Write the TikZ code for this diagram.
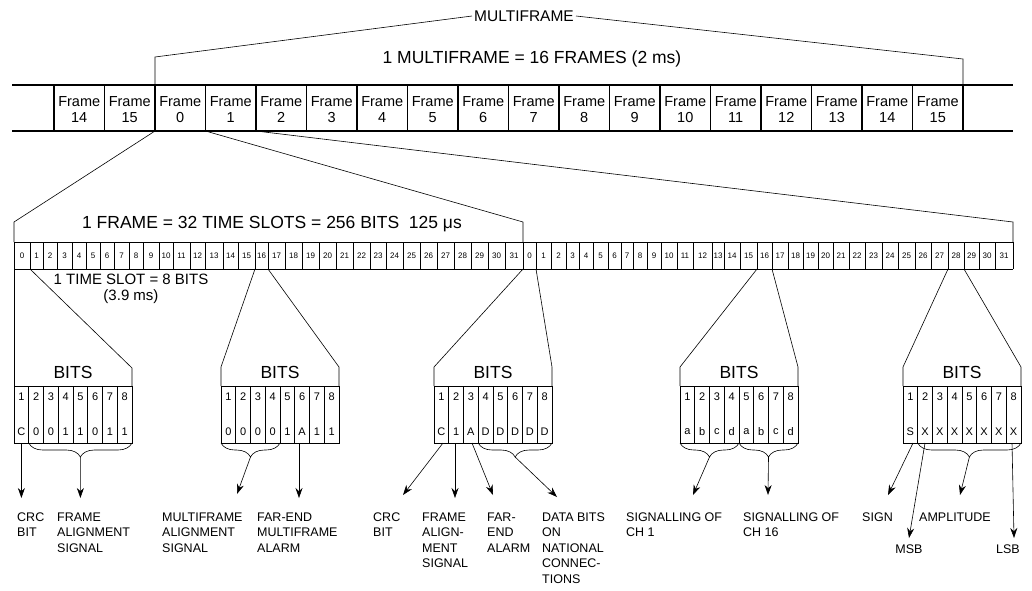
\documentclass[tikz,border=0pt]{standalone}
\usepackage{fontspec}
\setmainfont{Liberation Sans}
\usetikzlibrary{arrows.meta,calc,decorations.pathreplacing}

\begin{document}
\begin{tikzpicture}[
    x=1pt, y=1pt,
    thinline/.style={line width=0.6pt},
    heavyline/.style={line width=2pt},
    framediv/.style={line width=1.6pt},
    headline/.style={font=\fontsize{17.5}{19}\selectfont, inner sep=1pt},
    frametxt/.style={font=\fontsize{14.5}{16}\selectfont, align=center, inner sep=0pt},
    slotnum/.style={font=\fontsize{8}{9}\selectfont, inner sep=0pt},
    bitnum/.style={font=\fontsize{11}{12}\selectfont, inner sep=0pt},
    sigtext/.style={font=\fontsize{12.5}{15.5}\selectfont, align=left, anchor=north west, inner sep=0pt},
    sigarrow/.style={thinline, -{Stealth[length=10pt,width=7pt]}},
    bitbrace/.style={thinline, decorate, decoration={brace, mirror, amplitude=14pt}}
]
\useasboundingbox (0,0) rectangle (1032,-590);

\node (mf) [font=\fontsize{15.5}{17}\selectfont, inner sep=2pt] at (524,-16) {MULTIFRAME};
\node (mftitle) [headline] at (532,-59) {1 MULTIFRAME = 16 FRAMES (2 ms)};
\draw [heavyline] (12,-85) -- (1013,-85);
\draw [heavyline] (12,-131) -- (1013,-131);
\foreach \k in {0,...,18} {
    \coordinate (ft\k) at ({54+50.5*\k},-85);
    \coordinate (fb\k) at ({54+50.5*\k},-131);
    \draw [framediv] (ft\k) -- (fb\k);
}
\foreach \n [count=\k from 0] in {14,15,0,1,2,...,15}
    \node (fr\k) [frametxt] at ({79.25+50.5*\k},-110) {Frame\\\n};
\draw [thinline] (mf.west) -- (155,-57) -- (ft2);
\draw [thinline] (mf.east) -- (963,-59) -- (ft18);

\node (frtitle) [headline] at (272,-224) {1 FRAME = 32 TIME SLOTS = 256 BITS\ \ 125 μs};
\draw [thinline] (14,-242) -- (1013,-242) (14,-269) -- (1013,-269);
\foreach \x [count=\k from 0] in {14,30,43,57,72,86,100,114,129,143,159,173,190,205,223,238,255,268,285,302,319,336,353,370,386,403,420,437,454,471,488,505,523} {
    \coordinate (sa\k) at (\x,-269);
    \draw [thinline] (\x,-242) -- (sa\k);
}
\foreach \x [count=\k from 0] in {523,536,551,566,579,593,608,621,633,647,661,677,693,712,724,740,757,772,788,803,818,833,849,865,882,898,915,931,948,964,979,995,1013} {
    \coordinate (sb\k) at (\x,-269);
    \draw [thinline] (\x,-242) -- (sb\k);
}
\foreach \k in {0,...,31} {
    \pgfmathtruncatemacro{\j}{\k+1}
    \node (na\k) [slotnum] at ($(sa\k)!0.5!(sa\j)+(0,13.5)$) {\k};
    \node (nb\k) [slotnum] at ($(sb\k)!0.5!(sb\j)+(0,13.5)$) {\k};
}
\coordinate (rowL) at (14,-242);
\coordinate (rowM) at (523,-242);
\coordinate (rowR) at (1013,-242);
\draw [thinline] (fb2) -- (14,-222) -- (rowL);
\draw [thinline] (fb3) -- (523,-222) -- (rowM);
\draw [thinline] (fb4) -- (1013,-222) -- (rowR);
\node (slottitle) [font=\fontsize{15}{16.5}\selectfont, align=center, inner sep=0pt] at (131,-289) {1 TIME SLOT = 8 BITS\\(3.9 ms)};

\foreach \bx/\vals [count=\b] in {14/{C,0,0,1,1,0,1,1}, 221/{0,0,0,0,1,A,1,1}, 434/{C,1,A,D,D,D,D,D}, 680/{a,b,c,d,a,b,c,d}, 903/{S,X,X,X,X,X,X,X}} {
    \coordinate (bl\b) at (\bx,-386);
    \coordinate (br\b) at ({\bx+118},-386);
    \coordinate (bb\b-0) at (\bx,-443);
    \draw [thinline] (bl\b) rectangle ++(118,-57);
    \node (bits\b) [headline] at ({\bx+59},-372) {BITS};
    \foreach \v [count=\i] in \vals {
        \coordinate (bb\b-\i) at ({\bx+14.75*\i},-443);
        \draw [thinline] ({\bx+14.75*\i},-386) -- (bb\b-\i);
        \node (bn\b-\i) [bitnum] at ({\bx+14.75*\i-7.375},-397) {\i};
        \node (bv\b-\i) [bitnum] at ({\bx+14.75*\i-7.375},-432) {\v};
    }
}
\draw [thinline] (sa0) -- (bl1);
\draw [thinline] (sa1) -- ($(br1)+(0,18)$) -- (br1);
\foreach \b/\l/\r in {2/sa16/sa17, 3/sb0/sb1, 4/sb16/sb17, 5/sb28/sb29} {
    \draw [thinline] (\l) -- ($(bl\b)+(0,19)$) -- (bl\b);
    \draw [thinline] (\r) -- ($(br\b)+(0,19)$) -- (br\b);
}

\draw [bitbrace] (bb1-1) -- (bb1-8);
\draw [bitbrace] (bb2-0) -- (bb2-4);
\draw [bitbrace] (bb3-3) -- (bb3-8);
\draw [bitbrace] (bb4-0) -- (bb4-4);
\draw [bitbrace] (bb4-4) -- (bb4-8);
\draw [bitbrace] (bb5-1) -- (bb5-8);
\coordinate (tip1) at ($(bb1-1)!0.5!(bb1-8)+(0,-14)$);
\coordinate (tip2) at ($(bb2-0)!0.5!(bb2-4)+(0,-14)$);
\coordinate (tip3) at ($(bb3-3)!0.5!(bb3-8)+(0,-14)$);
\coordinate (tip4) at ($(bb4-0)!0.5!(bb4-4)+(0,-14)$);
\coordinate (tip5) at ($(bb4-4)!0.5!(bb4-8)+(0,-14)$);
\coordinate (tip6) at ($(bb5-1)!0.5!(bb5-8)+(0,-14)$);

\coordinate (s1) at (21.4,-443);
\coordinate (s4) at (299,-443);
\coordinate (s5) at (443,-443);
\coordinate (s6) at (455,-443);
\coordinate (s7) at (472,-443);
\coordinate (s11) at (913,-443);
\coordinate (s12) at (925,-443);
\coordinate (s14) at (1012,-443);
\coordinate (e1) at (21.4,-498);
\coordinate (e2) at (80.4,-498);
\coordinate (e3) at (237,-494);
\coordinate (e4) at (299,-498);
\coordinate (e5) at (403,-495);
\coordinate (e6) at (455,-498);
\coordinate (e7) at (493,-495);
\coordinate (e8) at (557,-497);
\coordinate (e9) at (693,-495);
\coordinate (e10) at (768,-495);
\coordinate (e11) at (888,-495);
\coordinate (e12) at (909,-538);
\coordinate (e13) at (960,-495);
\coordinate (e14) at (1014,-538);
\foreach \s/\e in {s1/e1, tip1/e2, tip2/e3, s4/e4, s5/e5, s6/e6, s7/e7, tip3/e8, tip4/e9, tip5/e10, s11/e11, s12/e12, tip6/e13, s14/e14}
    \draw [sigarrow] (\s) -- (\e);

\node (crc1) [sigtext] at (17,-512.5) {CRC\\BIT};
\node (fas1) [sigtext] at (57,-512.5) {FRAME\\ALIGNMENT\\SIGNAL};
\node (mfas) [sigtext] at (162,-512.5) {MULTIFRAME\\ALIGNMENT\\SIGNAL};
\node (mfal) [sigtext] at (257,-512.5) {FAR-END\\MULTIFRAME\\ALARM};
\node (crc2) [sigtext] at (373,-512.5) {CRC\\BIT};
\node (fas2) [sigtext] at (422,-512.5) {FRAME\\ALIGN-\\MENT\\SIGNAL};
\node (fal) [sigtext] at (487,-512.5) {FAR-\\END\\ALARM};
\node (data) [sigtext] at (542,-512.5) {DATA BITS\\ON\\NATIONAL\\CONNEC-\\TIONS};
\node (sig1) [sigtext] at (626,-512.5) {SIGNALLING OF\\CH 1};
\node (sig16) [sigtext] at (743,-512.5) {SIGNALLING OF\\CH 16};
\node (sign) [sigtext] at (862,-512.5) {SIGN};
\node (ampl) [sigtext] at (919,-512.5) {AMPLITUDE};
\node (msb) [sigtext, anchor=north] at (909,-545) {MSB};
\node (lsb) [sigtext, anchor=north] at (1008,-545) {LSB};
\end{tikzpicture}
\end{document}
